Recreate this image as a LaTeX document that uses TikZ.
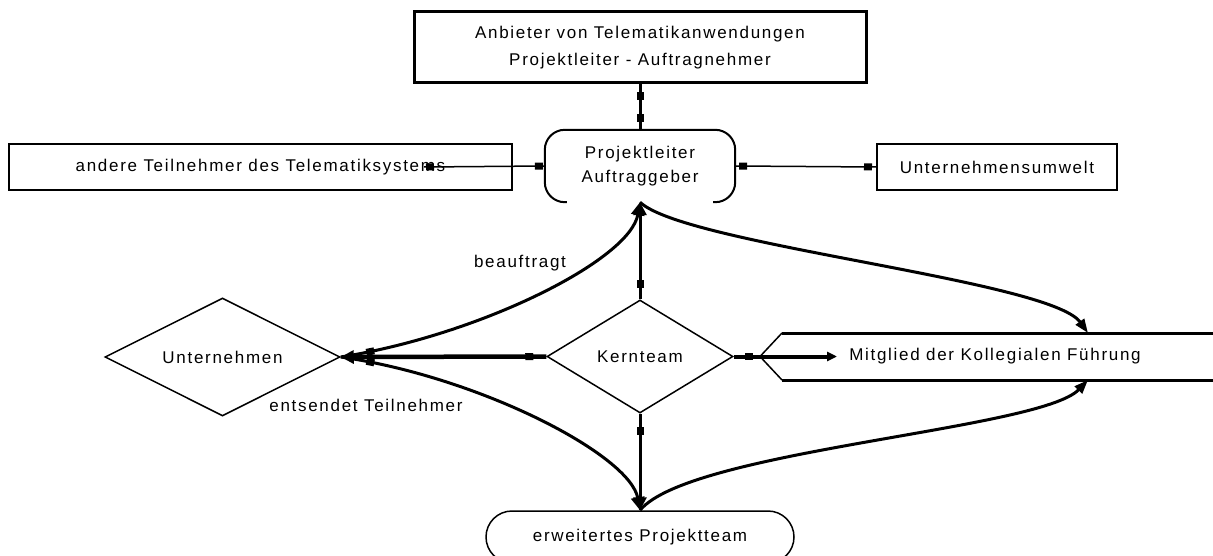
\documentclass[tikz,border=0pt]{standalone}
\usepackage{fontspec}
\setmainfont{Liberation Sans}[LetterSpace=10]
\usetikzlibrary{arrows.meta,decorations.markings,shapes.geometric}

\tikzset{
  every node/.style={font=\fontsize{17}{20}\selectfont},
  box/.style={draw, line width=2pt, inner sep=0pt},
  rhomb/.style={diamond, draw, line width=1.5pt, inner sep=0pt, aspect=1.65},
  conn/.style={line width=3pt},
  thinconn/.style={line width=1.5pt},
  arrowend/.style={-{Triangle[length=13pt,width=13pt]}},
  tick at/.style={postaction={decorate, decoration={markings,
      mark=at position #1 with {\fill (-4pt,-3.5pt) rectangle (4pt,3.5pt);}}}},
}

\begin{document}
\begin{tikzpicture}[x=1pt, y=-1pt]
  \clip (0,0) rectangle (1213,556);
  \fill[white] (0,0) rectangle (1213,556);

  % boxes
  \node[box, line width=3pt, minimum width=452pt, minimum height=71pt, align=center,
        font=\fontsize{17}{27}\selectfont] (anb) at (640,47.5)
        {Anbieter von Telematikanwendungen\\Projektleiter - Auftragnehmer};
  \node[box, minimum width=503pt, minimum height=46pt] (and) at (260.5,167)
        {andere Teilnehmer des Telematiksystems};
  \node[box, minimum width=240pt, minimum height=46pt] (um) at (997,167)
        {Unternehmensumwelt};

  % Projektleiter / Auftraggeber
  \node[minimum width=190pt, minimum height=72pt, inner sep=0pt, align=center,
        font=\fontsize{17}{24}\selectfont] (pl) at (640,166)
        {Projektleiter\\Auftraggeber};
  \draw[line width=2pt, rounded corners=20pt]
    ([xshift=22pt]pl.south west) -- (pl.south west) -- (pl.north west)
    -- (pl.north east) -- (pl.south east) -- ([xshift=-22pt]pl.south east);

  % diamonds
  \node[rhomb, minimum width=186pt, minimum height=113pt] (kt) at (640,356.5) {Kernteam};
  \node[rhomb, minimum width=235pt, minimum height=118pt] (un) at (222.5,357) {Unternehmen};

  % Mitglied der Kollegialen Fuehrung
  \node (mg) at (995,356.5) {Mitglied der Kollegialen Führung};
  \coordinate (mgtip) at (760,356.5);
  \coordinate (mgin) at (837,356.5);
  \coordinate (mgtop) at (1088,333);
  \coordinate (mgbot) at (1088,380);
  \draw[line width=3pt] (1230,333) -- (782,333);
  \draw[line width=3pt] (1230,380) -- (782,380);
  \draw[line width=1.5pt] (782,333) -- (mgtip) -- (782,380);

  % erweitertes Projektteam
  \node[draw, line width=1.5pt, rounded corners=26pt, minimum width=308pt,
        minimum height=52pt, inner sep=0pt] (ep) at (640,537) {erweitertes Projektteam};

  % connectors
  \coordinate (andend) at (424,167);
  \draw[conn, tick at=12pt, tick at=-12pt] (anb.south) -- (pl.north);
  \draw[thinconn, tick at=6pt, tick at=-6pt] (andend) -- (pl.west);
  \draw[thinconn, tick at=8pt, tick at=-8pt] (pl.east) -- (um.west);
  \draw[conn, arrowend, tick at=15pt] (kt.north) -- (pl.south);
  \draw[conn, arrowend, tick at=17pt] (kt.south) -- (ep.north);
  \draw[line width=4.5pt, arrowend, tick at=17pt] (kt.west) -- (un.east);
  \draw[line width=4pt, -{Triangle[length=10pt,width=9pt]}, tick at=15pt] (kt.east) -- (mgin);

  \draw[conn, arrowend, tick at=30pt] (un.east) .. controls (480,335) and (630,260) .. (pl.south);
  \draw[conn, arrowend, tick at=30pt] (un.east) .. controls (480,377) and (630,455) .. (ep.north);
  \draw[conn, -{Triangle[length=14pt,width=10pt]}] (pl.south) .. controls (685,245) and (1050,280) .. (mgtop);
  \draw[conn, -{Triangle[length=14pt,width=10pt]}] (ep.north) .. controls (690,450) and (1040,430) .. (mgbot);

  % labels
  \node (lbA) at (520,263) {beauftragt};
  \node (lbB) at (366,405) {entsendet Teilnehmer};
\end{tikzpicture}
\end{document}
